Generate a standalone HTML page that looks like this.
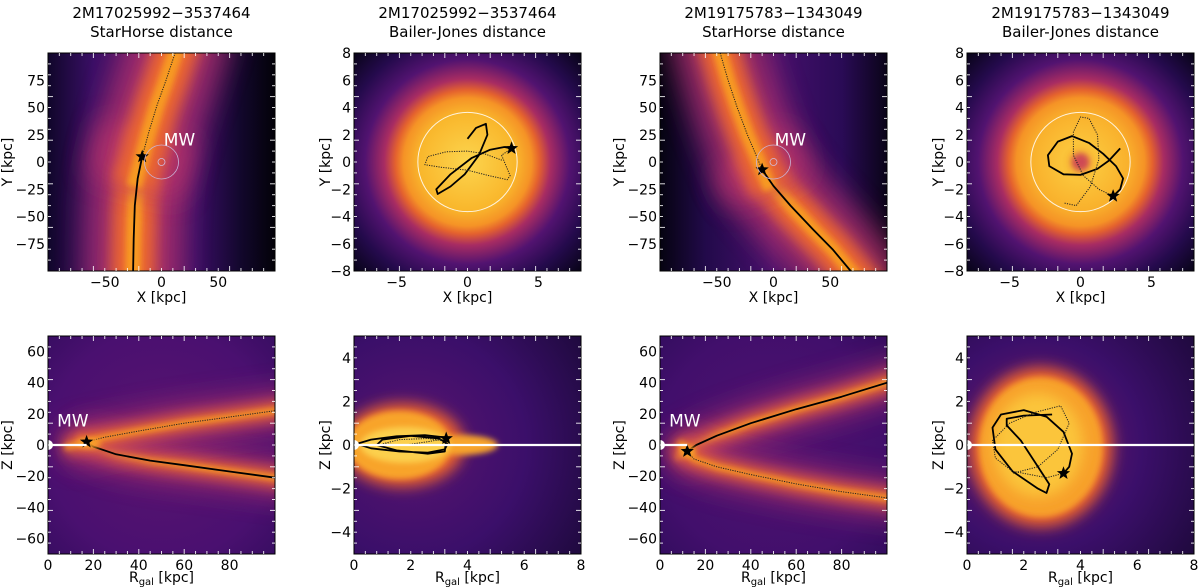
<!DOCTYPE html>
<html><head><meta charset="utf-8">
<style>
body{margin:0;background:#fff;width:1200px;height:588px;overflow:hidden}
svg{display:block;font-family:"DejaVu Sans","Liberation Sans",sans-serif}
</style></head>
<body>
<svg id="fig" width="1200" height="588" xmlns="http://www.w3.org/2000/svg">
<defs>
<filter id="blur6" filterUnits="userSpaceOnUse" x="0" y="0" width="1200" height="588"><feGaussianBlur stdDeviation="7"/></filter>
<filter id="blur3" filterUnits="userSpaceOnUse" x="0" y="0" width="1200" height="588"><feGaussianBlur stdDeviation="3"/></filter>
<filter id="blur12" filterUnits="userSpaceOnUse" x="0" y="0" width="1200" height="588"><feGaussianBlur stdDeviation="14"/></filter>
</defs>
</svg>
<script>
// ---- data (kpc) ----
const titles1 = ["2M17025992\u22123537464","2M17025992\u22123537464","2M19175783\u22121343049","2M19175783\u22121343049"];
const titles2 = ["StarHorse distance","Bailer-Jones distance","StarHorse distance","Bailer-Jones distance"];
const p1Solid = [[-25,-100],[-24.5,-70],[-23.5,-40],[-21,-15],[-17,5]];
const p1Dot = [[-17,5],[-11,28],[-4,52],[4,75],[12,100]];
const p1Star = [-17,5];
const p2Solid = [[0,1.7],[0.6,2.5],[1.3,2.8],[1.4,2.0],[0.8,0.5],[-0.2,-0.9],[-1.2,-1.8],[-2.1,-2.35],[-2.2,-2.0],[-1.2,-0.9],[0.3,0.3],[1.6,0.9],[2.6,1.1],[3.1,1.0]];
const p2Dot = [[3.1,1.0],[2.4,0.5],[3.0,-1.0],[2.8,-1.3],[1.5,-1.0],[0,-0.6],[-1.8,-0.4],[-3.0,-0.2],[-2.8,0.4],[-1.5,0.75],[0,0.8],[1.2,0.6],[2.5,0.1]];
const p2Star = [3.1,1.0];
const p3Solid = [[-10,-7],[0,-22],[15,-40],[35,-62],[52,-80],[68,-100]];
const p3Dot = [[-47,100],[-40,75],[-32,50],[-23,25],[-16,8],[-10,-7]];
const p3Star = [-10,-7];
const p4Solid = [[2.8,1.0],[2.0,0.1],[1.2,-0.5],[0,-0.95],[-1.2,-0.9],[-2.2,-0.3],[-2.3,0.5],[-1.6,1.5],[-0.6,1.9],[0.6,1.4],[1.6,0.6],[2.5,-0.3],[3.0,-1.2],[2.8,-2.0],[2.3,-2.5]];
const p4Dot = [[2.3,-2.5],[1.3,-2.0],[0.2,-1.0],[-0.5,0.5],[-0.5,2.2],[0,3.3],[0.6,3.2],[1.2,2.0],[1.3,0.2],[0.7,-1.8],[-0.3,-3.2],[-1.2,-3.0]];
const p4Star = [2.3,-2.5];
const b1Solid = [[17,2],[20,-1],[30,-6],[45,-10],[60,-13],[80,-17],[100,-21]];
const b1Dot = [[17,2],[25,5],[40,9],[60,14],[80,18],[100,22]];
const b1Star = [17,2];
const b2Solid = [[3.2,0.35],[2.5,0.45],[1.5,0.4],[0.6,0.25],[0.1,0.05],[0.6,-0.15],[1.6,-0.3],[2.6,-0.35],[3.2,-0.2],[3.3,0.05],[3.0,0.3],[2.0,0.42],[1.0,0.25],[0.8,0.0],[1.5,-0.25],[2.6,-0.4],[3.2,-0.3],[3.25,0.3]];
const b2Dot = [[3.25,0.3],[2.6,0.15],[1.8,0.0],[1.0,0.05],[1.6,0.25],[2.6,0.3],[3.1,0.2]];
const b2Star = [3.25,0.3];
const b3Solid = [[12,-4],[16,0],[25,6],[40,14],[60,23],[80,31],[100,40]];
const b3Dot = [[12,-4],[15,-9],[25,-14],[40,-19],[60,-25],[80,-30],[100,-34]];
const b3Star = [12,-4];
const b4Solid = [[3.0,1.4],[2.0,1.35],[1.4,1.2],[1.4,0.9],[1.9,0.2],[2.4,-0.8],[2.9,-1.8],[2.8,-2.2],[2.5,-2.0],[1.6,-1.2],[1.0,-0.2],[0.9,0.8],[1.2,1.4],[2.0,1.6],[2.8,1.3],[3.4,0.6],[3.7,-0.4],[3.6,-1.0],[3.4,-1.3]];
const b4Dot = [[3.4,-1.3],[2.8,-1.5],[1.6,-1.2],[1.0,-0.6],[0.9,0.2],[1.5,1.0],[2.4,1.5],[3.3,1.8],[3.6,1.0],[3.2,-0.2],[2.5,-1.0],[1.6,-1.3]];
const b4Star = [3.4,-1.3];
const topTicksSH = [-50,0,50], topYTicksSH=[-75,-50,-25,0,25,50,75];
const topTicksBJ = [-5,0,5], topYTicksBJ=[-8,-6,-4,-2,0,2,4,6,8];
const botTicksSH = [0,20,40,60,80], botYTicksSH=[-60,-40,-20,0,20,40,60];
const botTicksBJ = [0,2,4,6,8], botYTicksBJ=[-4,-2,0,2,4];

const NS="http://www.w3.org/2000/svg";
const svg=document.getElementById('fig');
const defs=svg.querySelector('defs');
function mk(tag,attrs,parent){const e=document.createElementNS(NS,tag);for(const k in attrs)e.setAttribute(k,attrs[k]);(parent||svg).appendChild(e);return e;}
const PX=[48,354,660,967], W=227, TOP=[53,336], H=218;

function axes(px,py,x0,x1,y0,y1){
  return {sx:v=>px+(v-x0)/(x1-x0)*W, sy:v=>py+H-(v-y0)/(y1-y0)*H};
}
function pathD(a,ax){return a.map((p,i)=>(i?'L':'M')+ax.sx(p[0]).toFixed(1)+','+ax.sy(p[1]).toFixed(1)).join(' ');}
function extend(a){const n=a.length,f=0.4;
  const s=[a[0][0]+(a[0][0]-a[1][0])*f*3,a[0][1]+(a[0][1]-a[1][1])*f*3];
  const e=[a[n-1][0]+(a[n-1][0]-a[n-2][0])*f*3,a[n-1][1]+(a[n-1][1]-a[n-2][1])*f*3];
  return [s].concat(a,[e]);}
function star(cx,cy,r,g){let d='';for(let i=0;i<10;i++){const rr=i%2?r*0.42:r;const a=-Math.PI/2+i*Math.PI/5;d+=(i?'L':'M')+(cx+rr*Math.cos(a)).toFixed(1)+','+(cy+rr*Math.sin(a)).toFixed(1);}const s=mk('path',{d:d+'Z',fill:'#000'},g);}
function grad(id,cx,cy,r,stops){const g=mk('radialGradient',{id,cx,cy,r,gradientUnits:'userSpaceOnUse'},defs);stops.forEach(s=>mk('stop',{offset:s[0],'stop-color':s[1]},g));}
function lgrad(id,x1,y1,x2,y2,stops){const g=mk('linearGradient',{id,x1,y1,x2,y2,gradientUnits:'userSpaceOnUse'},defs);stops.forEach(s=>mk('stop',{offset:s[0],'stop-color':s[1]},g));}

function panel(i,row,xr,yr,xt,yt,xlabel,ylabel,name){
  const px=PX[i],py=TOP[row];
  const g=mk('g',{});
  const cid='clip'+i+row;const cp=mk('clipPath',{id:cid},defs);mk('rect',{x:px,y:py,width:W,height:H},cp);
  const bg=mk('g',{'clip-path':'url(#'+cid+')'},g);
  const ax=axes(px,py,xr[0],xr[1],yr[0],yr[1]);
  return {g,bg,ax,px,py,xt,yt,xlabel,ylabel};
}
function frame(P,subscript){
  const {g,ax,px,py}=P;
  mk('rect',{x:px,y:py,width:W,height:H,fill:'none',stroke:'#000','stroke-width':1},g);
  const t=mk('g',{stroke:'#fff','stroke-width':1,opacity:0.85},g);
  for(let k=1;k<20;k++){const x=px+k*W/20,y=py+k*H/20,L=(k%4===0)?5:3;
    mk('line',{x1:x,y1:py,x2:x,y2:py+L},t);mk('line',{x1:x,y1:py+H,x2:x,y2:py+H-L},t);
    mk('line',{x1:px,y1:y,x2:px+L,y2:y},t);mk('line',{x1:px+W,y1:y,x2:px+W-L,y2:y},t);}
  P.xt.forEach(v=>{const l=mk('text',{x:ax.sx(v),y:py+H+16,'font-size':14,'text-anchor':'middle',fill:'#000'},g);l.textContent=String(v).replace('-','\u2212');});
  P.yt.forEach(v=>{const l=mk('text',{x:px-3,y:ax.sy(v)+5,'font-size':14,'text-anchor':'end',fill:'#000'},g);l.textContent=String(v).replace('-','\u2212');});
  const xl=mk('text',{x:px+W/2,y:py+H+(subscript?28:31),'font-size':14,'text-anchor':'middle',fill:'#000'},g);
  if(subscript){xl.innerHTML='R<tspan font-size="10" dy="3">gal</tspan><tspan dy="-3"> [kpc]</tspan>';}else xl.textContent=P.xlabel;
  
  const yl=mk('text',{x:0,y:0,'font-size':14,'text-anchor':'middle',fill:'#000',transform:`translate(${px-(P.yt[0]<-9?36:24)},${py+H/2}) rotate(-90)`},g);
  yl.textContent=P.ylabel;
}
function traj(P,solid,dot,st,band,bw){
  const {bg,ax}=P;
  if(band){
    const A=extend(solid),B=extend(dot);
    [A,B].forEach(arr=>{
      mk('path',{d:pathD(arr,ax),fill:'none',stroke:'#b3306a','stroke-width':bw*2.2,filter:'url(#blur12)',opacity:0.8},bg);
      mk('path',{d:pathD(arr,ax),fill:'none',stroke:'#ea6530','stroke-width':bw,filter:'url(#blur6)'},bg);
      mk('path',{d:pathD(arr,ax),fill:'none',stroke:'#f79a22','stroke-width':bw*0.35,filter:'url(#blur3)'},bg);});}
  const s=mk('path',{d:pathD(solid,ax),fill:'none',stroke:'#000','stroke-width':1.8,'stroke-linejoin':'round'},bg);
  
  const d=mk('path',{d:pathD(dot,ax),fill:'none',stroke:'#222','stroke-width':1,'stroke-dasharray':'1.2,1.2','stroke-linejoin':'round'},bg);
  
  star(ax.sx(st[0]),ax.sy(st[1]),7,P.g);
}
function titles(i){const cx=PX[i]+W/2;
  const a=mk('text',{x:cx,y:18,'font-size':15,'text-anchor':'middle',fill:'#000'});a.textContent=titles1[i];
  const b=mk('text',{x:cx,y:37,'font-size':15,'text-anchor':'middle',fill:'#000'});b.textContent=titles2[i];}
function mw(P,tx){const {ax,g}=P;
  mk('circle',{cx:ax.sx(0),cy:ax.sy(0),r:17,fill:'none',stroke:'#c9b3d8','stroke-width':0.8},g);
  mk('circle',{cx:ax.sx(0),cy:ax.sy(0),r:3.5,fill:'none',stroke:'#d0bde0','stroke-width':0.8},g);
  const t=mk('text',{x:ax.sx(tx[0]),y:ax.sy(tx[1]),'font-size':17,fill:'#fff'},g);t.textContent='MW';}
function mwB(P){const t=mk('text',{x:P.ax.sx(4),y:P.ax.sy(12),'font-size':17,fill:'#fff'},P.g);t.textContent='MW';}
function zline(P,r1){mk('line',{x1:P.ax.sx(0),y1:P.ax.sy(0),x2:P.ax.sx(r1),y2:P.ax.sy(0),stroke:'#fff','stroke-width':2.2},P.g);
  mk('circle',{cx:P.ax.sx(0),cy:P.ax.sy(0),r:5,fill:'#fff'},P.g);}

const c=i=>PX[i]+W/2;
lgrad('bgSH1',PX[0],0,PX[0]+W,0,[[0,'#10062a'],[0.2,'#3a0f66'],[0.45,'#5d166e'],[0.65,'#3a0e66'],[0.85,'#12072c'],[1,'#030208']]);
lgrad('bgSH3',PX[2],0,PX[2]+W,0,[[0,'#050310'],[0.2,'#220a4a'],[0.5,'#46106c'],[0.8,'#2a0b56'],[1,'#0a0418']]);
grad('bgBJ2',c(1),162,160,[[0,'#fcd54e'],[0.3,'#f9b72c'],[0.4,'#f59326'],[0.45,'#e4622e'],[0.52,'#a82c62'],[0.64,'#521370'],[0.8,'#240a4c'],[1,'#050312']]);
grad('bgBJ4',c(3),162,160,[[0,'#f7b030'],[0.12,'#fbc43a'],[0.3,'#f9b12c'],[0.4,'#f59326'],[0.45,'#e4622e'],[0.52,'#a82c62'],[0.64,'#521370'],[0.8,'#240a4c'],[1,'#050312']]);
grad('bgB1',c(0),445,190,[[0,'#5a1470'],[0.6,'#4a1070'],[1,'#2c0b58']]);
grad('bgB2',PX[1]+60,445,320,[[0,'#5a1470'],[0.35,'#3b0f6a'],[0.75,'#12072a'],[1,'#030208']]);
grad('bgB3',c(2),445,190,[[0,'#4f1270'],[0.6,'#420f6c'],[1,'#2a0b56']]);
grad('bgB4',PX[3]+70,445,300,[[0,'#7a1c6c'],[0.35,'#3b0f6a'],[0.75,'#14072c'],[1,'#030208']]);

titles(0);titles(1);titles(2);titles(3);
let P=panel(0,0,[-100,100],[-100,100],topTicksSH,topYTicksSH,'X [kpc]','Y [kpc]','panel-xy-starhorse-1');
mk('rect',{x:P.px,y:P.py,width:W,height:H,fill:'url(#bgSH1)'},P.bg);
traj(P,p1Solid,p1Dot,p1Star,true,44);mw(P,[2,15]);frame(P);

P=panel(1,0,[-8,8],[-8,8],topTicksBJ,topYTicksBJ,'X [kpc]','Y [kpc]','panel-xy-bailerjones-1');
mk('rect',{x:P.px,y:P.py,width:W,height:H,fill:'url(#bgBJ2)'},P.bg);
mk('circle',{cx:P.ax.sx(0),cy:P.ax.sy(0),r:3.5*W/16,fill:'none',stroke:'#fff','stroke-width':1,opacity:0.85},P.bg);
traj(P,p2Solid,p2Dot,p2Star,false);frame(P);

P=panel(2,0,[-100,100],[-100,100],topTicksSH,topYTicksSH,'X [kpc]','Y [kpc]','panel-xy-starhorse-2');
mk('rect',{x:P.px,y:P.py,width:W,height:H,fill:'url(#bgSH3)'},P.bg);
traj(P,p3Solid,p3Dot,p3Star,true,40);mw(P,[1,15]);frame(P);

P=panel(3,0,[-8,8],[-8,8],topTicksBJ,topYTicksBJ,'X [kpc]','Y [kpc]','panel-xy-bailerjones-2');
mk('rect',{x:P.px,y:P.py,width:W,height:H,fill:'url(#bgBJ4)'},P.bg);
mk('circle',{cx:P.ax.sx(0),cy:P.ax.sy(0),r:9,fill:'#c8385a',filter:'url(#blur3)',opacity:0.85},P.bg);
mk('circle',{cx:P.ax.sx(0),cy:P.ax.sy(0),r:3.5*W/16,fill:'none',stroke:'#fff','stroke-width':1,opacity:0.85},P.bg);
traj(P,p4Solid,p4Dot,p4Star,false);frame(P);

P=panel(0,1,[0,100],[-70,70],botTicksSH,botYTicksSH,'','Z [kpc]','panel-rz-starhorse-1');
mk('rect',{x:P.px,y:P.py,width:W,height:H,fill:'url(#bgB1)'},P.bg);
traj(P,b1Solid,b1Dot,b1Star,true,16);
mk('ellipse',{cx:P.ax.sx(18),cy:P.ax.sy(1),rx:12,ry:5,fill:'#f8a02a',filter:'url(#blur3)'},P.bg);
zline(P,17);mwB(P);frame(P,true);

P=panel(1,1,[0,8],[-5,5],botTicksBJ,botYTicksBJ,'','Z [kpc]','panel-rz-bailerjones-1');
mk('rect',{x:P.px,y:P.py,width:W,height:H,fill:'url(#bgB2)'},P.bg);
mk('ellipse',{cx:P.ax.sx(1.7),cy:P.ax.sy(0),rx:62,ry:42,fill:'#e8602e',filter:'url(#blur6)'},P.bg);
mk('ellipse',{cx:P.ax.sx(1.6),cy:P.ax.sy(0),rx:52,ry:34,fill:'#f8a42a',filter:'url(#blur3)'},P.bg);
mk('ellipse',{cx:P.ax.sx(3.8),cy:P.ax.sy(0),rx:36,ry:10,fill:'#f8a42a',filter:'url(#blur3)'},P.bg);
mk('ellipse',{cx:P.ax.sx(1.8),cy:P.ax.sy(0),rx:45,ry:18,fill:'#fcd04e',filter:'url(#blur3)'},P.bg);
traj(P,b2Solid,b2Dot,b2Star,false);
zline(P,8);frame(P,true);

P=panel(2,1,[0,100],[-70,70],botTicksSH,botYTicksSH,'','Z [kpc]','panel-rz-starhorse-2');
mk('rect',{x:P.px,y:P.py,width:W,height:H,fill:'url(#bgB3)'},P.bg);
traj(P,b3Solid,b3Dot,b3Star,true,16);
mk('ellipse',{cx:P.ax.sx(12),cy:P.ax.sy(-4),rx:8,ry:6,fill:'#f8a02a',filter:'url(#blur3)'},P.bg);
zline(P,12);mwB(P);frame(P,true);

P=panel(3,1,[0,8],[-5,5],botTicksBJ,botYTicksBJ,'','Z [kpc]','panel-rz-bailerjones-2');
mk('rect',{x:P.px,y:P.py,width:W,height:H,fill:'url(#bgB4)'},P.bg);
mk('ellipse',{cx:P.ax.sx(2.6),cy:P.ax.sy(-0.1),rx:72,ry:80,fill:'#e8602e',filter:'url(#blur6)'},P.bg);
mk('ellipse',{cx:P.ax.sx(2.6),cy:P.ax.sy(-0.1),rx:62,ry:70,fill:'#f7a02a',filter:'url(#blur3)'},P.bg);
mk('ellipse',{cx:P.ax.sx(2.5),cy:P.ax.sy(0),rx:45,ry:52,fill:'#fbc53a',filter:'url(#blur6)'},P.bg);
traj(P,b4Solid,b4Dot,b4Star,false);
zline(P,8);frame(P,true);
</script>
</body></html>
